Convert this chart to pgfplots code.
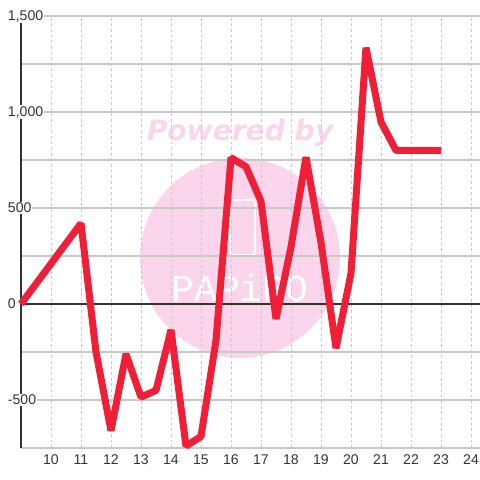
\documentclass[border=0pt]{standalone}
\usepackage{fontspec}
\setmainfont{Liberation Sans}
\newfontfamily\wmfont{DejaVu Sans}
\newfontfamily\monofont{Liberation Mono}
\usepackage{pgfplots}
\pgfplotsset{compat=1.18}
\definecolor{linered}{HTML}{EE1F36}
\definecolor{gridgray}{HTML}{C8C8C8}
\definecolor{axisdark}{HTML}{333333}
\definecolor{wmpink}{HTML}{FBD5EB}

\begin{document}
\begin{tikzpicture}
\begin{axis}[
    set layers,
    scale only axis, width=11.475cm, height=10.8cm,
    xmin=9, xmax=24.3, ymin=-750, ymax=1500,
    axis lines*=left,
    x axis line style={draw=none},
    y axis line style={draw=axisdark, line width=2.1pt},
    xtick={10,...,24}, ytick={-500,0,...,1500},
    minor ytick={-750,-250,250,750,1250},
    major tick length=0pt, minor tick length=0pt,
    xmajorgrids, ymajorgrids, yminorgrids,
    x grid style={gridgray, line width=0.7pt, dash pattern=on 2pt off 2pt},
    y grid style={gridgray, line width=0.8pt, solid},
    /pgf/number format/assume math mode=true,
    /pgf/number format/1000 sep={,},
    ticklabel style={text=axisdark, font=\fontsize{10}{12}\selectfont},
    yticklabel style={anchor=west, xshift=-0.35cm, fill=white, inner sep=0.5pt},
    xticklabel style={yshift=-1pt},
    clip=false,
]
\begin{pgfonlayer}{axis background}
\fill[wmpink] (axis cs:16.3,240) circle[radius=2.5cm];
\node[text=wmpink, font=\wmfont\fontsize{20}{22}\selectfont\bfseries\itshape] at (axis cs:16.3,890) {Powered by};
\node[text=white, font=\monofont\fontsize{27}{30}\selectfont] at (axis cs:16.3,83) {PAPiRO};
\draw[white, line width=1.2pt, rounded corners=2pt] (axis cs:15.97,255) rectangle (axis cs:16.8,542);
\end{pgfonlayer}
\coordinate (bl) at (rel axis cs:0,0);
\coordinate (tr) at (rel axis cs:1,1);
\draw[axisdark, line width=2.1pt] (axis cs:9,0) -- (axis cs:24.3,0);
\addplot[linered, line width=5pt, line join=bevel] coordinates {
    (9,0) (11,420) (11.5,-250) (12,-660) (12.5,-260) (13,-485) (13.5,-450)
    (14,-135) (14.5,-740) (15,-690) (15.5,-190) (16,762) (16.5,715) (17,535)
    (17.5,-78) (18,297) (18.5,765) (19,320) (19.5,-230) (20,160) (20.5,1335)
    (21,948) (21.5,800) (22,800) (22.5,800) (23,800)
};
\end{axis}
\pgfresetboundingbox
\path ([xshift=-0.525cm,yshift=-0.8cm]bl) rectangle ([yshift=0.4cm]tr);
\end{tikzpicture}
\end{document}
